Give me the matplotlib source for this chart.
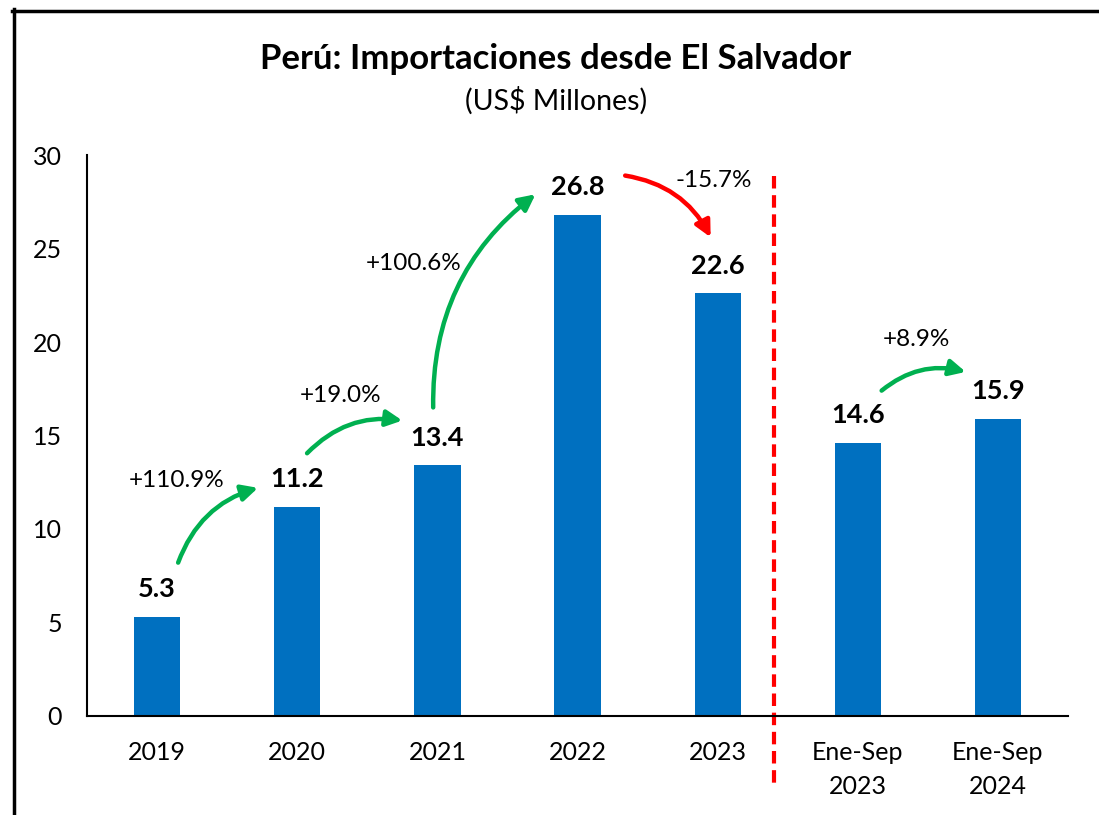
import numpy as np
import matplotlib
matplotlib.use('Agg')
import matplotlib.pyplot as plt
from matplotlib.lines import Line2D

plt.rcParams['font.family'] = ['Lato', 'DejaVu Sans']

categories = ['2019', '2020', '2021', '2022', '2023', 'Ene-Sep\n2023', 'Ene-Sep\n2024']
values = [5.3, 11.2, 13.4, 26.8, 22.6, 14.6, 15.9]
value_labels = ['5.3', '11.2', '13.4', '26.8', '22.6', '14.6', '15.9']

# growth arrows: (from index, to index, label, color)
growth = [
    (0, 1, '+110.9%', '#00B050'),
    (1, 2, '+19.0%', '#00B050'),
    (2, 3, '+100.6%', '#00B050'),
    (3, 4, '-15.7%', '#FF0000'),
    (5, 6, '+8.9%', '#00B050'),
]
# arrow start/end and label position (data coords)
arrow_start = [(0.15, 8.2), (1.07, 14.05), (1.97, 16.5), (3.34, 28.9), (5.17, 17.4)]
arrow_end = [(0.72, 12.2), (1.75, 15.8), (2.70, 27.9), (3.95, 25.6), (5.77, 18.4)]
label_pos = [(0.14, 12.6), (1.31, 17.15), (1.83, 24.2), (3.97, 28.65), (5.42, 20.15)]

fig = plt.figure(figsize=(10.99, 8.15), dpi=100)
ax = fig.add_axes([0.0792, 0.1215, 0.8926, 0.6883])

x = np.arange(len(categories))
ax.bar(x, values, width=0.33, color='#0070C0')

for i, v in enumerate(values):
    ax.annotate(value_labels[i], (x[i], v), xytext=(0, 20), textcoords='offset points',
                ha='center', va='center', fontsize=19.5, fontweight='bold')

for k, (a, b, lab, col) in enumerate(growth):
    ax.annotate('', xy=arrow_end[k], xytext=arrow_start[k],
                arrowprops=dict(arrowstyle='-|>', color=col, lw=3.2, mutation_scale=24,
                                shrinkA=0, shrinkB=0,
                                connectionstyle='arc3,rad=-0.25'))
    ax.text(label_pos[k][0], label_pos[k][1], lab, ha='center', va='center', fontsize=17.5)

# separator between full years and partial period
ax.plot([4.40, 4.40], [28.9, -3.8], color='#FF0000', lw=3, ls=(0, (3, 1.6)), clip_on=False)

ax.set_xlim(-0.5, 6.5)
ax.set_ylim(0, 30)
ax.set_yticks([0, 5, 10, 15, 20, 25, 30])
ax.set_xticks(x)
ax.set_xticklabels(categories, linespacing=1.6)
ax.tick_params(axis='both', length=0, labelsize=18)
ax.tick_params(axis='y', pad=18)
ax.tick_params(axis='x', pad=18)
for s in ['top', 'right']:
    ax.spines[s].set_visible(False)
for s in ['left', 'bottom']:
    ax.spines[s].set_linewidth(1.5)

fig.text(0.506, 0.928, 'Perú: Importaciones desde El Salvador', ha='center', va='center',
         fontsize=25, fontweight='bold')
fig.text(0.506, 0.877, '(US$ Millones)', ha='center', va='center', fontsize=20.5)

# outer frame (cut at right and bottom)
fig.add_artist(Line2D([13.5 / 1099, 13.5 / 1099], [1 - 9 / 815, -0.01], color='black', lw=2.5,
                      transform=fig.transFigure))
fig.add_artist(Line2D([12 / 1099, 1.01], [1 - 10.5 / 815, 1 - 10.5 / 815], color='black', lw=2.5,
                      transform=fig.transFigure))

fig.savefig('out.png', dpi=100)
